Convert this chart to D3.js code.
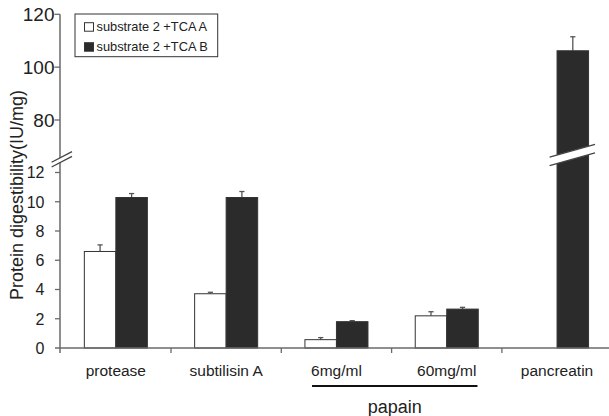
<!DOCTYPE html>
<html>
<head>
<meta charset="utf-8">
<script src="https://cdn.jsdelivr.net/npm/d3@7"></script>
<style>
  html, body { margin: 0; padding: 0; background: #fff; }
  svg { display: block; font-family: "Liberation Sans", Arial, sans-serif; }
</style>
</head>
<body>
<div id="chart"></div>
<script>
const categories = ["protease", "subtilisin A", "6mg/ml", "60mg/ml", "pancreatin"];
const seriesNames = ["substrate 2 +TCA A", "substrate 2 +TCA B"];
const valuesA = [6.6, 3.71, 0.57, 2.2, null];
const errorsA = [0.45, 0.1, 0.14, 0.28, null];
const valuesB = [10.29, 10.29, 1.8, 2.66, 106.2];
const errorsB = [0.27, 0.41, 0.07, 0.12, 5.3];
const lowerTicks = [0, 2, 4, 6, 8, 10, 12];
const upperTicks = [80, 100, 120];
const groupLabel = "papain";
const groupMembers = ["6mg/ml", "60mg/ml"];

const width = 609;
const height = 416;
const axisX = 60;
const breakValue = 13; // values above this live on the upper scale

const svg = d3
  .create("svg")
  .attr("viewBox", [0, 0, width, height])
  .attr("width", width)
  .attr("height", height);

d3.select("#chart").append(() => svg.node());

const x0 = d3.scaleBand().domain(categories).range([60.7, 612.2]).paddingInner(0).paddingOuter(0);
const x1 = d3.scaleBand().domain(seriesNames).range([0, x0.bandwidth()]).paddingInner(0).paddingOuter(0.75);

const yLow = d3.scaleLinear().domain([0, 12]).range([348, 172.5]);
const yHigh = d3.scaleLinear().domain([80, 120]).range([120, 14.3]);
const y = (v) => (v <= breakValue ? yLow(v) : yHigh(v));

const axisColor = "#6a6a6a";
const textColor = "#222";

const rows = [];
categories.forEach((c, i) => {
  rows.push({ cat: c, s: seriesNames[0], v: valuesA[i], e: errorsA[i] });
  rows.push({ cat: c, s: seriesNames[1], v: valuesB[i], e: errorsB[i] });
});
const bars = rows.filter((d) => d.v != null);

// Error bars (upper only)
const eg = svg.append("g").attr("stroke", "#555").attr("stroke-width", 1.3);
bars.forEach((d) => {
  const cx = x0(d.cat) + x1(d.s) + x1.bandwidth() / 2;
  eg.append("line").attr("x1", cx).attr("x2", cx).attr("y1", y(d.v)).attr("y2", y(d.v + d.e));
  eg.append("line").attr("x1", cx - 2.6).attr("x2", cx + 2.6).attr("y1", y(d.v + d.e)).attr("y2", y(d.v + d.e));
});

// Bars
svg
  .append("g")
  .selectAll("rect")
  .data(bars)
  .join("rect")
  .attr("x", (d) => x0(d.cat) + x1(d.s))
  .attr("width", x1.bandwidth())
  .attr("y", (d) => y(d.v))
  .attr("height", (d) => yLow(0) - y(d.v))
  .attr("fill", (d) => (d.s === seriesNames[0] ? "#fff" : "#2b2b2b"))
  .attr("stroke", "#333")
  .attr("stroke-width", 1);

// Y axis line
svg
  .append("line")
  .attr("x1", axisX).attr("x2", axisX)
  .attr("y1", yHigh(120)).attr("y2", yLow(0) + 5)
  .attr("stroke", axisColor).attr("stroke-width", 1.5);

// X axis line
svg
  .append("line")
  .attr("x1", axisX - 5).attr("x2", width)
  .attr("y1", yLow(0)).attr("y2", yLow(0))
  .attr("stroke", axisColor).attr("stroke-width", 1.7);

// Category boundary ticks
svg
  .append("g")
  .selectAll("line")
  .data(categories.slice(1))
  .join("line")
  .attr("x1", (d) => x0(d)).attr("x2", (d) => x0(d))
  .attr("y1", yLow(0)).attr("y2", yLow(0) + 5)
  .attr("stroke", axisColor).attr("stroke-width", 1.3);

// Y ticks, lower section
const lowG = svg.append("g");
lowerTicks.forEach((t) => {
  if (t > 0) {
    lowG.append("line").attr("x1", axisX - 5).attr("x2", axisX)
      .attr("y1", yLow(t)).attr("y2", yLow(t))
      .attr("stroke", axisColor).attr("stroke-width", 1.3);
  }
  lowG.append("text").attr("x", 44.5).attr("y", yLow(t)).attr("dy", "0.36em")
    .attr("text-anchor", "end").attr("font-size", 16).attr("fill", textColor).text(t);
});

// Y ticks, upper section
const highG = svg.append("g");
upperTicks.forEach((t) => {
  highG.append("line").attr("x1", axisX - 5.5).attr("x2", axisX)
    .attr("y1", yHigh(t)).attr("y2", yHigh(t))
    .attr("stroke", axisColor).attr("stroke-width", 1.3);
  highG.append("text").attr("x", 54.5).attr("y", yHigh(t)).attr("dy", "0.36em")
    .attr("text-anchor", "end").attr("font-size", 19).attr("fill", textColor).text(t);
});

// Break marks
function drawBreak(cx, cy, half, slope, gap) {
  const p1 = [cx - half, cy + half * slope - gap / 2];
  const p2 = [cx + half, cy - half * slope - gap / 2];
  const g = svg.append("g");
  g.append("path")
    .attr("d", `M${p1[0]},${p1[1]}L${p2[0]},${p2[1]}L${p2[0]},${p2[1] + gap}L${p1[0]},${p1[1] + gap}Z`)
    .attr("fill", "#fff");
  [0, gap].forEach((o) => {
    g.append("line")
      .attr("x1", p1[0]).attr("y1", p1[1] + o)
      .attr("x2", p2[0]).attr("y2", p2[1] + o)
      .attr("stroke", "#444").attr("stroke-width", 1.3);
  });
}
drawBreak(axisX + 1.8, yLow(12.9), 10.2, 0.52, 4.8);
drawBreak(x0("pancreatin") + x1(seriesNames[1]) + x1.bandwidth() / 2 - 0.5, yLow(13.2), 22.7, 0.28, 8.6);

// Category labels
const catLabels = svg
  .append("g")
  .selectAll("text")
  .data(categories)
  .join("text")
  .attr("x", (d) => x0(d) + x0.bandwidth() / 2)
  .attr("y", 376)
  .attr("text-anchor", "middle")
  .attr("font-size", 15.5)
  .attr("fill", textColor)
  .text((d) => d);

// papain bracket under the two papain concentrations
const memberBoxes = catLabels
  .filter((d) => groupMembers.includes(d))
  .nodes()
  .map((n) => n.getBBox());
const bx1 = d3.min(memberBoxes, (b) => b.x) + 1;
const bx2 = d3.max(memberBoxes, (b) => b.x + b.width) + 1;
svg
  .append("line")
  .attr("x1", bx1).attr("x2", bx2)
  .attr("y1", 386).attr("y2", 386)
  .attr("stroke", "#111").attr("stroke-width", 2.2);
svg
  .append("text")
  .attr("x", (bx1 + bx2) / 2)
  .attr("y", 412.5)
  .attr("text-anchor", "middle")
  .attr("font-size", 18)
  .attr("fill", textColor)
  .text(groupLabel);

// Y axis title
svg
  .append("text")
  .attr("transform", `translate(22.7,195) rotate(-90)`)
  .attr("text-anchor", "middle")
  .attr("font-size", 18)
  .attr("fill", textColor)
  .text("Protein digestibility(IU/mg)");

// Legend
const legend = svg.append("g");
legend
  .append("rect")
  .attr("x", 75).attr("y", 14)
  .attr("width", 142.7).attr("height", 42.7)
  .attr("fill", "#fff").attr("stroke", "#333").attr("stroke-width", 1);
seriesNames.forEach((s, i) => {
  const ly = 22.7 + i * 20;
  legend.append("rect")
    .attr("x", 84.5).attr("y", ly)
    .attr("width", 9).attr("height", 8.5)
    .attr("fill", i === 0 ? "#fff" : "#2b2b2b")
    .attr("stroke", "#333").attr("stroke-width", 1);
  legend.append("text")
    .attr("x", 96.5).attr("y", ly + 8.2)
    .attr("font-size", 12.8)
    .attr("fill", textColor)
    .text(s);
});
</script>
</body>
</html>
